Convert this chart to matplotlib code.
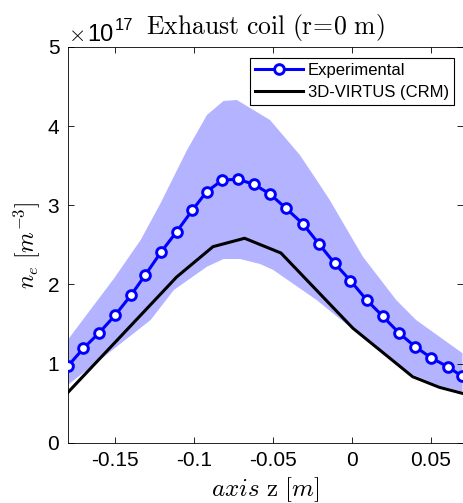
import matplotlib
matplotlib.use("Agg")
import matplotlib.pyplot as plt
import numpy as np
from matplotlib.ticker import FuncFormatter

plt.rcParams['font.family'] = ['Liberation Sans', 'DejaVu Sans']
plt.rcParams['mathtext.fontset'] = 'cm'
plt.rcParams['axes.unicode_minus'] = False

# density in units of 1e17 m^-3
exp_z = [-0.180, -0.170, -0.160, -0.150, -0.140, -0.131, -0.121, -0.111, -0.101,
         -0.092, -0.082, -0.072, -0.062, -0.052, -0.042, -0.031, -0.021, -0.011,
         -0.001, 0.0095, 0.0195, 0.030, 0.040, 0.050, 0.0605, 0.0695]
exp_ne = [0.965, 1.193, 1.390, 1.610, 1.862, 2.115, 2.406, 2.666, 2.940,
          3.172, 3.319, 3.328, 3.263, 3.143, 2.966, 2.763, 2.514, 2.267,
          2.047, 1.799, 1.597, 1.382, 1.213, 1.074, 0.960, 0.843]

crm_z = [-0.180, -0.111, -0.088, -0.068, -0.045, 0.0006, 0.0384, 0.0553, 0.0698]
crm_ne = [0.632, 2.094, 2.477, 2.583, 2.397, 1.446, 0.834, 0.700, 0.624]

# error band edges
up_z = [-0.180, -0.1506, -0.1338, -0.1212, -0.1044, -0.0918, -0.0813, -0.0729,
        -0.0519, -0.0330, -0.0224, -0.0141, 0.0069, 0.0280, 0.0406, 0.0700]
up_ne = [1.298, 2.077, 2.561, 3.025, 3.699, 4.141, 4.318, 4.330,
         4.077, 3.635, 3.319, 3.067, 2.350, 1.803, 1.550, 1.130]
lo_z = [-0.180, -0.157, -0.1275, -0.1128, -0.0918, -0.0813, -0.0708, -0.0582,
        -0.0498, -0.0224, -0.0015, 0.0384, 0.0553, 0.0700]
lo_ne = [0.729, 1.087, 1.550, 1.929, 2.224, 2.321, 2.321, 2.258,
         2.182, 1.803, 1.466, 0.86, 0.72, 0.645]

fig = plt.figure(figsize=(4.63, 5.03), dpi=100)
ax = fig.add_axes([0.1462, 0.1199, 0.8528, 0.7867])

ax.fill(np.concatenate([up_z, lo_z[::-1]]), np.concatenate([up_ne, lo_ne[::-1]]),
        color='#b3b3ff', lw=0, zorder=1)
ax.plot(exp_z, exp_ne, '-o', color='#0000ff', lw=2.2, ms=7, mew=2.1,
        mfc='white', mec='#0000ff', label='Experimental', zorder=3)
ax.plot(crm_z, crm_ne, '-', color='black', lw=2.2, label='3D-VIRTUS (CRM)', zorder=2)

ax.set_xlim(-0.18, 0.07)
ax.set_ylim(0, 5)
ax.set_xticks([-0.15, -0.1, -0.05, 0, 0.05])
ax.set_yticks([0, 1, 2, 3, 4, 5])
ax.xaxis.set_major_formatter(FuncFormatter(lambda v, p: '%g' % round(v, 3)))
ax.tick_params(direction='in', top=True, right=True, length=4, width=0.6,
               labelsize=15, pad=6)
for s in ax.spines.values():
    s.set_linewidth(0.6)

ax.set_xlabel(r'$axis\ \mathrm{z}\ [m]$', fontsize=18, labelpad=4)
ax.set_ylabel(r'$n_e\ [m^{-3}]$', fontsize=17, labelpad=4)
ax.set_title(r'$\mathrm{Exhaust\ coil\ (r\!=\!0\ m)}$', fontsize=18.5, pad=9)

# offset "x10^17" drawn by hand so it keeps the sans font
tx = ax.text(0.0, 1.014, r'$\times$', transform=ax.transAxes, fontsize=16,
             ha='left', va='baseline')
t10 = ax.text(0.05, 1.014, '10', transform=ax.transAxes, fontsize=17,
              ha='left', va='baseline')
fig.canvas.draw()
bb = t10.get_window_extent()
x_end = ax.transAxes.inverted().transform((bb.x1 + 1, 0))[0]
ax.text(x_end, 1.044, '17', transform=ax.transAxes, fontsize=12,
        ha='left', va='baseline')

leg = ax.legend(loc='upper right', bbox_to_anchor=(0.9785, 0.972), fontsize=12,
                fancybox=False, framealpha=1, edgecolor='black',
                handlelength=2.9, borderpad=0.3, labelspacing=0.4,
                handletextpad=0.3, borderaxespad=0)
leg.get_frame().set_linewidth(0.8)

fig.savefig('out.png', dpi=100)
